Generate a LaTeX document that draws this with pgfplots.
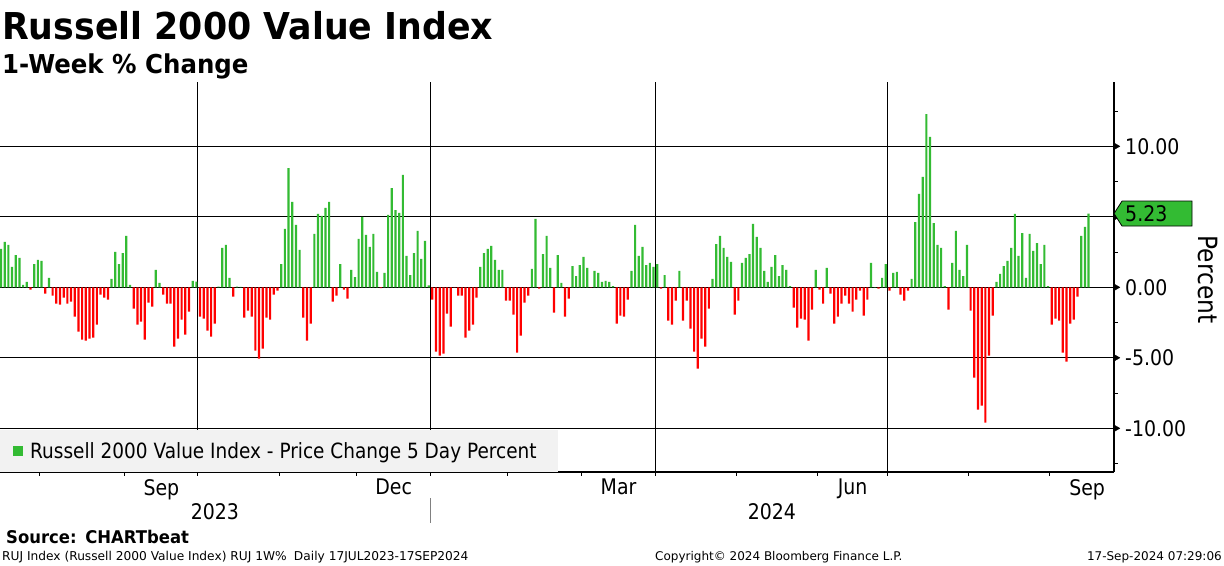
\documentclass[border=0pt]{standalone}
\usepackage{fontspec}
\setmainfont{DejaVu Sans}[FakeStretch=0.88]
\newfontfamily\tfont{DejaVu Sans}[FakeStretch=0.94]
\newfontfamily\ffont{DejaVu Sans}
\usepackage{pgfplots}
\usepackage{pgfplotstable}
\pgfplotsset{compat=1.18}
\definecolor{barg}{RGB}{51,187,51}
\definecolor{barr}{RGB}{255,0,0}
\definecolor{leg}{RGB}{242,242,242}
\newcommand\fs[1]{\fontsize{#1bp}{#1bp}\selectfont}

% RUJ 1-week % change, one value per trading day, 17JUL2023 - 17SEP2024
\pgfplotstableread[row sep=\\]{
v\\
2.72\\ 3.22\\ 3.00\\ 1.44\\ 2.29\\ 2.08\\ 0.17\\ 0.38\\ -0.17\\ 1.65\\
1.94\\ 1.87\\ -0.45\\ 0.66\\ -0.59\\ -1.16\\ -1.23\\ -0.73\\ -1.16\\ -1.02\\
-2.08\\ -3.14\\ -3.71\\ -3.78\\ -3.64\\ -3.57\\ -2.65\\ -0.52\\ -0.73\\ -0.87\\
0.59\\ 2.51\\ 1.65\\ 2.43\\ 3.64\\ 0.17\\ -1.51\\ -2.65\\ -2.43\\ -3.71\\
-1.09\\ -1.37\\ 1.23\\ 0.31\\ -0.52\\ -1.16\\ -1.16\\ -4.21\\ -3.64\\ -2.29\\
-3.36\\ -1.73\\ 0.45\\ 0.40\\ -2.08\\ -2.22\\ -3.07\\ -3.50\\ -2.58\\ 0.05\\
2.79\\ 3.00\\ 0.66\\ -0.66\\ 0.05\\ 0.03\\ -2.15\\ -1.65\\ -2.08\\ -4.49\\
-5.06\\ -4.35\\ -2.15\\ -2.29\\ -0.52\\ -0.24\\ 1.65\\ 4.14\\ 8.46\\ 6.05\\
4.42\\ 2.65\\ -2.15\\ -3.78\\ -2.58\\ 3.78\\ 5.20\\ 5.06\\ 5.63\\ 6.05\\
-1.02\\ -0.59\\ 1.65\\ -0.17\\ -0.80\\ 1.23\\ 0.73\\ 3.43\\ 4.99\\ 3.71\\
2.86\\ 3.78\\ 1.09\\ -0.05\\ 1.02\\ 5.13\\ 7.04\\ 5.48\\ 5.27\\ 7.97\\
2.22\\ 0.87\\ 2.43\\ 4.00\\ 2.01\\ 3.29\\ 0.14\\ -0.87\\ -4.56\\ -4.85\\
-4.70\\ -1.87\\ -2.79\\ -0.03\\ -0.59\\ -0.59\\ -3.57\\ -3.07\\ -2.65\\ -0.73\\
1.44\\ 2.43\\ 2.72\\ 2.93\\ 1.94\\ 1.23\\ 1.23\\ -0.95\\ -0.95\\ -1.94\\
-4.63\\ -3.43\\ -1.09\\ -0.59\\ 1.30\\ 4.85\\ -0.09\\ 2.36\\ 3.64\\ 1.37\\
-1.80\\ 2.29\\ 0.31\\ -2.08\\ -0.80\\ 1.51\\ 0.80\\ 1.58\\ 2.15\\ 1.37\\
-0.02\\ 1.16\\ 1.02\\ 0.38\\ 0.45\\ 0.38\\ 0.09\\ -2.58\\ -2.01\\ -2.08\\
-0.87\\ 1.16\\ 4.42\\ 2.22\\ 2.86\\ 1.58\\ 1.73\\ 1.44\\ 1.65\\ -0.09\\
0.87\\ -2.36\\ -2.65\\ -0.95\\ 1.16\\ -2.36\\ -0.95\\ -2.93\\ -4.56\\ -5.77\\
-3.64\\ -4.21\\ -1.51\\ 0.59\\ 3.07\\ 3.64\\ 2.79\\ 2.15\\ 1.80\\ -1.94\\
-0.95\\ 1.73\\ 2.08\\ 2.36\\ 4.49\\ 3.57\\ 2.79\\ 1.16\\ 0.38\\ 1.44\\
2.29\\ 0.80\\ 1.58\\ 1.23\\ 0.09\\ -1.44\\ -2.86\\ -2.22\\ -2.29\\ -3.78\\
-1.58\\ 1.23\\ -0.17\\ -1.16\\ 1.37\\ -0.45\\ -2.58\\ -2.08\\ -1.16\\ -0.59\\
-1.16\\ -1.73\\ -0.87\\ -0.24\\ -2.01\\ -0.87\\ 1.73\\ 0.02\\ -0.09\\ 0.66\\
1.65\\ -0.24\\ 1.02\\ 1.09\\ -0.52\\ -0.95\\ -0.24\\ 0.59\\ 4.63\\ 6.62\\
7.83\\ 12.29\\ 10.66\\ 4.56\\ 3.00\\ 2.79\\ 0.09\\ -1.58\\ 1.73\\ 4.00\\
1.23\\ 0.80\\ 3.00\\ -1.65\\ -6.41\\ -8.68\\ -8.39\\ -9.60\\ -4.85\\ -2.01\\
0.38\\ 0.95\\ 1.51\\ 1.87\\ 2.79\\ 5.20\\ 2.22\\ 3.85\\ 0.66\\ 3.78\\
2.58\\ 3.14\\ 1.65\\ 3.00\\ 0.09\\ -2.65\\ -2.22\\ -2.36\\ -4.63\\ -5.27\\
-2.58\\ -2.29\\ -0.66\\ 3.64\\ 4.28\\ 5.23\\
}\ruj

\begin{document}
\begin{tikzpicture}
\fill[white] (0,0) rectangle (1224bp,-566bp);
\useasboundingbox (0,0) rectangle (1224bp,-566bp);

\begin{axis}[
    at={(0bp,-472bp)}, anchor=south west,
    scale only axis, width=1114bp, height=390bp,
    xmin=-0.27, xmax=301.9, ymin=-13.1, ymax=14.56,
    axis x line*=bottom, axis y line*=right,
    axis line style={black, line width=1.1bp},
    clip=false,
    tick align=outside,
    major tick length=0pt, minor tick length=3.5bp,
    minor tick style={black, line width=0.9bp},
    xtick={43.5,106.5,167.5,231,294.6},
    xticklabels={Sep,Dec,Mar,Jun,Sep},
    minor xtick={10.5,33.5,53.3,75.5,96.5,116.4,137.5,157.5,177.4,199.5,221.5,240.4,262.5,284.5},
    extra x ticks={53.3,116.4,177.4,240.4},
    extra x tick labels={},
    extra x tick style={grid=major},
    ytick={-10,-5,0,5,10},
    yticklabels={-10.00,-5.00,0.00,{},10.00},
    minor ytick={-12.5,-7.5,-2.5,2.5,7.5,12.5},
    ymajorgrids,
    major grid style={black, line width=0.9bp},
    tick label style={font=\fs{21.5}, inner sep=0pt},
    xticklabel style={anchor=north, yshift=-7bp},
    yticklabel style={anchor=west, xshift=11bp},
    legend style={at={(0,0)}, anchor=south west, draw=none, fill=leg,
        inner xsep=13bp, inner ysep=12bp, column sep=7bp,
        nodes={inner sep=0pt}, font=\fs{21}},
    legend cell align=left,
]
\addplot[ybar, bar width=2.2bp, bar shift=0pt, fill=barg, draw=none,
    restrict y to domain=0:20,
    legend image code/.code={\fill[barg] (0bp,-5bp) rectangle (10bp,5bp);}]
    table[x expr=\coordindex, y=v] {\ruj};
\addlegendentry{\makebox[515bp][l]{Russell 2000 Value Index - Price Change 5 Day Percent}}
\addplot[ybar, bar width=2.2bp, bar shift=0pt, fill=barr, draw=none,
    restrict y to domain=-20:0, forget plot]
    table[x expr=\coordindex, y=v] {\ruj};
% arrow heads on the value axis
\addplot[forget plot, only marks, mark=triangle*, mark size=3.8bp,
    mark options={black, xshift=2bp, rotate=-90}]
    coordinates {(301.9,-10) (301.9,-5) (301.9,0) (301.9,5) (301.9,10)};

\coordinate (lv) at (axis cs:301.9,5.23);
\node[anchor=north, inner sep=0pt, yshift=-31bp, font=\fs{21.5}] at (axis cs:58,-13.1) {2023};
\node[anchor=north, inner sep=0pt, yshift=-31bp, font=\fs{21.5}] at (axis cs:209.1,-13.1) {2024};
\draw[gray, line width=0.8bp] (axis cs:116.5,-13.1) ++(0bp,-26bp) -- ++(0bp,-25bp);
\end{axis}

% last value tag
\draw[line width=0.8bp, fill=barg] (lv) -- ++(8bp,12.5bp) -- ++(70bp,0bp)
    -- ++(0bp,-25bp) -- ++(-70bp,0bp) -- cycle;
\node[anchor=west, inner sep=0pt, font=\fs{21.5}] at ([xshift=11bp]lv) {5.23};

\node[rotate=-90, inner sep=0pt, font=\fs{26.5}] at (1207.5bp,-279.5bp) {Percent};

\node[anchor=base west, inner sep=0pt, font=\tfont\bfseries\fs{37}] at (2bp,-39.5bp) {Russell 2000 Value Index};
\node[anchor=base west, inner sep=0pt, font=\tfont\bfseries\fs{26}] at (2bp,-73bp) {1-Week \% Change};

\node[anchor=base west, inner sep=0pt, font=\tfont\bfseries\fs{17.5}] at (6bp,-543.5bp) {Source:\hspace{0.5em}CHARTbeat};
\node[anchor=base west, inner sep=0pt, font=\ffont\fs{12.2}] at (2bp,-560.5bp) {RUJ Index (Russell 2000 Value Index) RUJ 1W\%\hspace{0.6em}Daily 17JUL2023-17SEP2024};
\node[anchor=base west, inner sep=0pt, font=\ffont\fs{12}] at (655bp,-560.5bp) {Copyright© 2024 Bloomberg Finance L.P.};
\node[anchor=base east, inner sep=0pt, font=\ffont\fs{12}] at (1222bp,-560.5bp) {17-Sep-2024 07:29:06};
\end{tikzpicture}
\end{document}
